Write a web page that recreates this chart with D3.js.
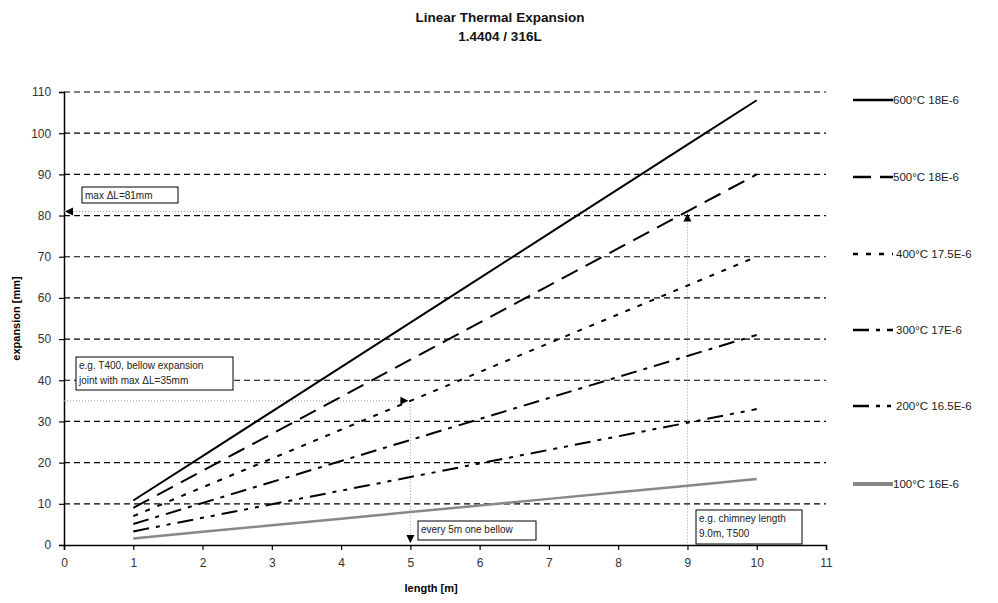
<!DOCTYPE html>
<html>
<head>
<meta charset="utf-8">
<script src="https://cdn.jsdelivr.net/npm/d3@7"></script>
<style>
  body { margin: 0; background: #fff; }
  svg text { font-family: "Liberation Sans", Arial, sans-serif; }
</style>
</head>
<body>
<div id="chart"></div>
<script>
// lengths in m
const lengths = [1, 2, 3, 4, 5, 6, 7, 8, 9, 10];
// expansion in mm per temperature
const exp600 = [10.8, 21.6, 32.4, 43.2, 54.0, 64.8, 75.6, 86.4, 97.2, 108.0];
const exp500 = [9.0, 18.0, 27.0, 36.0, 45.0, 54.0, 63.0, 72.0, 81.0, 90.0];
const exp400 = [7.0, 14.0, 21.0, 28.0, 35.0, 42.0, 49.0, 56.0, 63.0, 70.0];
const exp300 = [5.1, 10.2, 15.3, 20.4, 25.5, 30.6, 35.7, 40.8, 45.9, 51.0];
const exp200 = [3.3, 6.6, 9.9, 13.2, 16.5, 19.8, 23.1, 26.4, 29.7, 33.0];
const exp100 = [1.6, 3.2, 4.8, 6.4, 8.0, 9.6, 11.2, 12.8, 14.4, 16.0];
const seriesNames = ["600°C 18E-6", "500°C 18E-6", "400°C 17.5E-6", "300°C 17E-6", "200°C 16.5E-6", "100°C 16E-6"];
const xTicks = [0, 1, 2, 3, 4, 5, 6, 7, 8, 9, 10, 11];
const yTicks = [0, 10, 20, 30, 40, 50, 60, 70, 80, 90, 100, 110];

const series = [
  { name: seriesNames[0], values: exp600, color: "#000", width: 2, dash: null },
  { name: seriesNames[1], values: exp500, color: "#000", width: 2, dash: "18,9" },
  { name: seriesNames[2], values: exp400, color: "#000", width: 2, dash: "5,8" },
  { name: seriesNames[3], values: exp300, color: "#000", width: 2, dash: "16,7,4,7" },
  { name: seriesNames[4], values: exp200, color: "#000", width: 2, dash: "16,7,4,7,4,7" },
  { name: seriesNames[5], values: exp100, color: "#888", width: 2.5, dash: null }
];

const svg = d3.select("#chart").append("svg").attr("width", 998).attr("height", 603);

const x = d3.scaleLinear().domain([0, 11]).range([64, 826]);
const y = d3.scaleLinear().domain([0, 110]).range([545, 92]);

// title
svg.append("text").attr("x", 500).attr("y", 22).attr("text-anchor", "middle")
  .attr("font-size", "13.5px").attr("font-weight", "bold").attr("fill", "#111").text("Linear Thermal Expansion");
svg.append("text").attr("x", 500).attr("y", 41).attr("text-anchor", "middle")
  .attr("font-size", "13.5px").attr("font-weight", "bold").attr("fill", "#111").text("1.4404 / 316L");

// grid
svg.append("g").selectAll("line").data(yTicks.filter(d => d > 0)).enter().append("line")
  .attr("x1", x(0)).attr("x2", x(11)).attr("y1", d => y(d)).attr("y2", d => y(d))
  .attr("stroke", "#000").attr("stroke-width", 1.2).attr("stroke-dasharray", "6,4");

// axes
const xAxis = svg.append("g").attr("transform", `translate(0,${y(0)})`)
  .call(d3.axisBottom(x).tickValues(xTicks).tickSize(5).tickFormat(d3.format("d")));
const yAxis = svg.append("g").attr("transform", `translate(${x(0)},0)`)
  .call(d3.axisLeft(y).tickValues(yTicks).tickSize(5).tickFormat(d3.format("d")));
[xAxis, yAxis].forEach(a => {
  a.select(".domain").attr("stroke", "#000").attr("stroke-width", 1.5);
  a.selectAll(".tick line").attr("stroke", "#000").attr("stroke-width", 1.2);
  a.selectAll(".tick text").attr("font-size", "12px").attr("fill", "#333")
    .attr("font-family", "Liberation Sans, Arial, sans-serif");
});
xAxis.selectAll(".tick text").attr("dy", "1.2em");
yAxis.selectAll(".tick text").attr("dx", "-0.4em");

// axis labels
svg.append("text").attr("x", x(5.3)).attr("y", 592).attr("text-anchor", "middle")
  .attr("font-size", "11px").attr("font-weight", "bold").text("length [m]");
svg.append("text").attr("transform", `translate(20,${y(55)}) rotate(-90)`).attr("text-anchor", "middle")
  .attr("font-size", "11px").attr("font-weight", "bold").text("expansion [mm]");

// helper dotted lines
const helper = svg.append("g").attr("stroke", "#999").attr("stroke-width", 1).attr("stroke-dasharray", "1,2");
helper.append("line").attr("x1", x(0)).attr("x2", x(9)).attr("y1", y(81)).attr("y2", y(81));
helper.append("line").attr("x1", x(9)).attr("x2", x(9)).attr("y1", y(81)).attr("y2", y(0));
helper.append("line").attr("x1", x(0)).attr("x2", x(5)).attr("y1", y(35)).attr("y2", y(35));
helper.append("line").attr("x1", x(5)).attr("x2", x(5)).attr("y1", y(35)).attr("y2", y(0));

// data lines
const line = d3.line().x((d, i) => x(lengths[i])).y(d => y(d));
svg.append("g").selectAll("path").data(series).enter().append("path")
  .attr("d", d => line(d.values))
  .attr("fill", "none")
  .attr("stroke", d => d.color)
  .attr("stroke-width", d => d.width)
  .attr("stroke-dasharray", d => d.dash);

// arrows
function arrow(px, py, dir) {
  const s = 4;
  let pts;
  if (dir === "up") pts = [[px, py], [px - s, py + 8], [px + s, py + 8]];
  if (dir === "down") pts = [[px, py], [px - s, py - 8], [px + s, py - 8]];
  if (dir === "left") pts = [[px, py], [px + 8, py - s], [px + 8, py + s]];
  if (dir === "right") pts = [[px, py], [px - 8, py - s], [px - 8, py + s]];
  svg.append("path").attr("d", "M" + pts.join("L") + "Z").attr("fill", "#000");
}
arrow(x(0) + 1, y(81), "left");
arrow(x(9), y(81) + 2, "up");
arrow(x(5) - 2, y(35), "right");
arrow(x(5), y(0) - 2, "down");

// annotation boxes
function note(bx, by, w, h, lines) {
  svg.append("rect").attr("x", bx).attr("y", by).attr("width", w).attr("height", h)
    .attr("fill", "#fff").attr("stroke", "#000").attr("stroke-width", 1);
  lines.forEach((t, i) => {
    svg.append("text").attr("x", bx + 3).attr("y", by + 12 + i * 15)
      .attr("font-size", "10px").attr("fill", "#222").text(t);
  });
}
note(82, 187, 96, 16, ["max ΔL=81mm"]);
note(76, 357, 157, 33, ["e.g. T400, bellow expansion", "joint with max ΔL=35mm"]);
note(418, 521, 118, 19, ["every 5m one bellow"]);
note(696, 510, 106, 34, ["e.g. chimney length", "9.0m, T500"]);

// legend
const legendY = [100, 177, 254, 330, 406, 484];
const legend = svg.append("g");
series.forEach((s, i) => {
  legend.append("line").attr("x1", 853).attr("x2", 893).attr("y1", legendY[i]).attr("y2", legendY[i])
    .attr("stroke", s.color).attr("stroke-width", s.color === "#888" ? 4 : 2.5)
    .attr("stroke-dasharray", s.dash);
  legend.append("text").attr("x", i >= 2 && i <= 4 ? 896 : 893).attr("y", legendY[i] + 4)
    .attr("font-size", "11.5px").attr("fill", "#222").text(s.name);
});
</script>
</body>
</html>
